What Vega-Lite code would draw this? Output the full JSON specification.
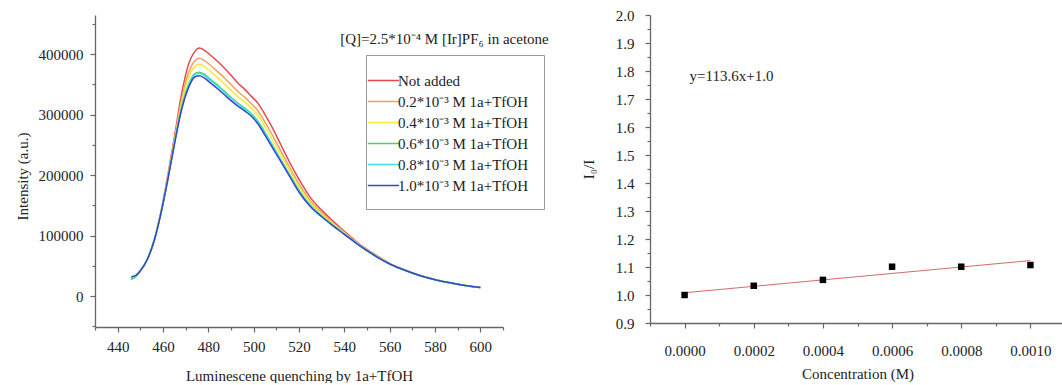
{
  "$schema": "https://vega.github.io/schema/vega-lite/v6.json",
  "padding": {"left": 15, "top": 8, "right": 0, "bottom": 0},
  "spacing": 32,
  "config": {
    "font": "Liberation Serif",
    "view": {"stroke": null},
    "axis": {
      "grid": false,
      "domainColor": "#666666",
      "domainWidth": 1.3,
      "tickColor": "#666666",
      "tickWidth": 1.2,
      "tickCount": 100,
      "labelColor": "#222222",
      "titleColor": "#222222",
      "labelFontSize": 15,
      "titleFontSize": 15,
      "titleFontWeight": "normal",
      "labelFont": "Liberation Serif",
      "titleFont": "Liberation Serif",
      "labelOverlap": false,
      "labelFlush": false,
      "labelBound": false
    }
  },
  "datasets": {
    "spectra": [
      {"w":446,"v":30000,"s":"Not added"},{"w":448,"v":33000,"s":"Not added"},{"w":450,"v":41000,"s":"Not added"},{"w":453,"v":60000,"s":"Not added"},{"w":456,"v":91000,"s":"Not added"},{"w":459,"v":138000,"s":"Not added"},{"w":462,"v":197000,"s":"Not added"},{"w":465,"v":262000,"s":"Not added"},{"w":468,"v":330000,"s":"Not added"},{"w":471,"v":380000,"s":"Not added"},{"w":474,"v":404000,"s":"Not added"},{"w":476,"v":410000,"s":"Not added"},{"w":478,"v":407000,"s":"Not added"},{"w":481,"v":398000,"s":"Not added"},{"w":484,"v":388000,"s":"Not added"},{"w":487,"v":377000,"s":"Not added"},{"w":490,"v":365000,"s":"Not added"},{"w":493,"v":352000,"s":"Not added"},{"w":496,"v":342000,"s":"Not added"},{"w":499,"v":330000,"s":"Not added"},{"w":502,"v":318000,"s":"Not added"},{"w":505,"v":300000,"s":"Not added"},{"w":508,"v":280000,"s":"Not added"},{"w":512,"v":250000,"s":"Not added"},{"w":516,"v":220000,"s":"Not added"},{"w":520,"v":193000,"s":"Not added"},{"w":525,"v":163000,"s":"Not added"},{"w":530,"v":142000,"s":"Not added"},{"w":535,"v":124000,"s":"Not added"},{"w":540,"v":107000,"s":"Not added"},{"w":545,"v":91000,"s":"Not added"},{"w":550,"v":77000,"s":"Not added"},{"w":555,"v":65000,"s":"Not added"},{"w":560,"v":54000,"s":"Not added"},{"w":565,"v":45500,"s":"Not added"},{"w":570,"v":38500,"s":"Not added"},{"w":575,"v":32500,"s":"Not added"},{"w":580,"v":27500,"s":"Not added"},{"w":585,"v":23000,"s":"Not added"},{"w":590,"v":19500,"s":"Not added"},{"w":595,"v":16500,"s":"Not added"},{"w":600,"v":14000,"s":"Not added"},

      {"w":446,"v":29000,"s":"0.2*10⁻³ M 1a+TfOH"},{"w":448,"v":33000,"s":"0.2*10⁻³ M 1a+TfOH"},{"w":450,"v":41500,"s":"0.2*10⁻³ M 1a+TfOH"},{"w":453,"v":60000,"s":"0.2*10⁻³ M 1a+TfOH"},{"w":456,"v":90600,"s":"0.2*10⁻³ M 1a+TfOH"},{"w":459,"v":136900,"s":"0.2*10⁻³ M 1a+TfOH"},{"w":462,"v":194400,"s":"0.2*10⁻³ M 1a+TfOH"},{"w":465,"v":257600,"s":"0.2*10⁻³ M 1a+TfOH"},{"w":468,"v":320800,"s":"0.2*10⁻³ M 1a+TfOH"},{"w":471,"v":366000,"s":"0.2*10⁻³ M 1a+TfOH"},{"w":474,"v":388500,"s":"0.2*10⁻³ M 1a+TfOH"},{"w":476,"v":393000,"s":"0.2*10⁻³ M 1a+TfOH"},{"w":478,"v":390000,"s":"0.2*10⁻³ M 1a+TfOH"},{"w":481,"v":381000,"s":"0.2*10⁻³ M 1a+TfOH"},{"w":484,"v":371400,"s":"0.2*10⁻³ M 1a+TfOH"},{"w":487,"v":360700,"s":"0.2*10⁻³ M 1a+TfOH"},{"w":490,"v":349500,"s":"0.2*10⁻³ M 1a+TfOH"},{"w":493,"v":338000,"s":"0.2*10⁻³ M 1a+TfOH"},{"w":496,"v":328700,"s":"0.2*10⁻³ M 1a+TfOH"},{"w":499,"v":317800,"s":"0.2*10⁻³ M 1a+TfOH"},{"w":502,"v":305400,"s":"0.2*10⁻³ M 1a+TfOH"},{"w":505,"v":287400,"s":"0.2*10⁻³ M 1a+TfOH"},{"w":508,"v":267800,"s":"0.2*10⁻³ M 1a+TfOH"},{"w":512,"v":239600,"s":"0.2*10⁻³ M 1a+TfOH"},{"w":516,"v":211500,"s":"0.2*10⁻³ M 1a+TfOH"},{"w":520,"v":185200,"s":"0.2*10⁻³ M 1a+TfOH"},{"w":525,"v":157500,"s":"0.2*10⁻³ M 1a+TfOH"},{"w":530,"v":137900,"s":"0.2*10⁻³ M 1a+TfOH"},{"w":535,"v":121000,"s":"0.2*10⁻³ M 1a+TfOH"},{"w":540,"v":105200,"s":"0.2*10⁻³ M 1a+TfOH"},{"w":545,"v":89900,"s":"0.2*10⁻³ M 1a+TfOH"},{"w":550,"v":76300,"s":"0.2*10⁻³ M 1a+TfOH"},{"w":555,"v":64300,"s":"0.2*10⁻³ M 1a+TfOH"},{"w":560,"v":53600,"s":"0.2*10⁻³ M 1a+TfOH"},{"w":565,"v":45300,"s":"0.2*10⁻³ M 1a+TfOH"},{"w":570,"v":38300,"s":"0.2*10⁻³ M 1a+TfOH"},{"w":575,"v":32300,"s":"0.2*10⁻³ M 1a+TfOH"},{"w":580,"v":27300,"s":"0.2*10⁻³ M 1a+TfOH"},{"w":585,"v":22900,"s":"0.2*10⁻³ M 1a+TfOH"},{"w":590,"v":19400,"s":"0.2*10⁻³ M 1a+TfOH"},{"w":595,"v":16400,"s":"0.2*10⁻³ M 1a+TfOH"},{"w":600,"v":14000,"s":"0.2*10⁻³ M 1a+TfOH"},

      {"w":446,"v":27000,"s":"0.4*10⁻³ M 1a+TfOH"},{"w":448,"v":32000,"s":"0.4*10⁻³ M 1a+TfOH"},{"w":450,"v":41500,"s":"0.4*10⁻³ M 1a+TfOH"},{"w":453,"v":60000,"s":"0.4*10⁻³ M 1a+TfOH"},{"w":456,"v":90400,"s":"0.4*10⁻³ M 1a+TfOH"},{"w":459,"v":136200,"s":"0.4*10⁻³ M 1a+TfOH"},{"w":462,"v":192900,"s":"0.4*10⁻³ M 1a+TfOH"},{"w":465,"v":254900,"s":"0.4*10⁻³ M 1a+TfOH"},{"w":468,"v":315300,"s":"0.4*10⁻³ M 1a+TfOH"},{"w":471,"v":357600,"s":"0.4*10⁻³ M 1a+TfOH"},{"w":474,"v":379200,"s":"0.4*10⁻³ M 1a+TfOH"},{"w":476,"v":383000,"s":"0.4*10⁻³ M 1a+TfOH"},{"w":478,"v":380000,"s":"0.4*10⁻³ M 1a+TfOH"},{"w":481,"v":370900,"s":"0.4*10⁻³ M 1a+TfOH"},{"w":484,"v":361500,"s":"0.4*10⁻³ M 1a+TfOH"},{"w":487,"v":351000,"s":"0.4*10⁻³ M 1a+TfOH"},{"w":490,"v":340200,"s":"0.4*10⁻³ M 1a+TfOH"},{"w":493,"v":329600,"s":"0.4*10⁻³ M 1a+TfOH"},{"w":496,"v":320800,"s":"0.4*10⁻³ M 1a+TfOH"},{"w":499,"v":310500,"s":"0.4*10⁻³ M 1a+TfOH"},{"w":502,"v":298000,"s":"0.4*10⁻³ M 1a+TfOH"},{"w":505,"v":280000,"s":"0.4*10⁻³ M 1a+TfOH"},{"w":508,"v":260500,"s":"0.4*10⁻³ M 1a+TfOH"},{"w":512,"v":233500,"s":"0.4*10⁻³ M 1a+TfOH"},{"w":516,"v":206400,"s":"0.4*10⁻³ M 1a+TfOH"},{"w":520,"v":180600,"s":"0.4*10⁻³ M 1a+TfOH"},{"w":525,"v":154200,"s":"0.4*10⁻³ M 1a+TfOH"},{"w":530,"v":135500,"s":"0.4*10⁻³ M 1a+TfOH"},{"w":535,"v":119300,"s":"0.4*10⁻³ M 1a+TfOH"},{"w":540,"v":104100,"s":"0.4*10⁻³ M 1a+TfOH"},{"w":545,"v":89200,"s":"0.4*10⁻³ M 1a+TfOH"},{"w":550,"v":75800,"s":"0.4*10⁻³ M 1a+TfOH"},{"w":555,"v":63800,"s":"0.4*10⁻³ M 1a+TfOH"},{"w":560,"v":53400,"s":"0.4*10⁻³ M 1a+TfOH"},{"w":565,"v":45200,"s":"0.4*10⁻³ M 1a+TfOH"},{"w":570,"v":38200,"s":"0.4*10⁻³ M 1a+TfOH"},{"w":575,"v":32200,"s":"0.4*10⁻³ M 1a+TfOH"},{"w":580,"v":27200,"s":"0.4*10⁻³ M 1a+TfOH"},{"w":585,"v":22900,"s":"0.4*10⁻³ M 1a+TfOH"},{"w":590,"v":19300,"s":"0.4*10⁻³ M 1a+TfOH"},{"w":595,"v":16300,"s":"0.4*10⁻³ M 1a+TfOH"},{"w":600,"v":13900,"s":"0.4*10⁻³ M 1a+TfOH"},

      {"w":446,"v":27500,"s":"0.6*10⁻³ M 1a+TfOH"},{"w":448,"v":32000,"s":"0.6*10⁻³ M 1a+TfOH"},{"w":450,"v":41500,"s":"0.6*10⁻³ M 1a+TfOH"},{"w":453,"v":60000,"s":"0.6*10⁻³ M 1a+TfOH"},{"w":456,"v":90100,"s":"0.6*10⁻³ M 1a+TfOH"},{"w":459,"v":135400,"s":"0.6*10⁻³ M 1a+TfOH"},{"w":462,"v":190900,"s":"0.6*10⁻³ M 1a+TfOH"},{"w":465,"v":251600,"s":"0.6*10⁻³ M 1a+TfOH"},{"w":468,"v":308300,"s":"0.6*10⁻³ M 1a+TfOH"},{"w":471,"v":347000,"s":"0.6*10⁻³ M 1a+TfOH"},{"w":474,"v":367500,"s":"0.6*10⁻³ M 1a+TfOH"},{"w":476,"v":370000,"s":"0.6*10⁻³ M 1a+TfOH"},{"w":478,"v":367000,"s":"0.6*10⁻³ M 1a+TfOH"},{"w":481,"v":358000,"s":"0.6*10⁻³ M 1a+TfOH"},{"w":484,"v":348900,"s":"0.6*10⁻³ M 1a+TfOH"},{"w":487,"v":338700,"s":"0.6*10⁻³ M 1a+TfOH"},{"w":490,"v":328500,"s":"0.6*10⁻³ M 1a+TfOH"},{"w":493,"v":318900,"s":"0.6*10⁻³ M 1a+TfOH"},{"w":496,"v":310700,"s":"0.6*10⁻³ M 1a+TfOH"},{"w":499,"v":301300,"s":"0.6*10⁻³ M 1a+TfOH"},{"w":502,"v":288400,"s":"0.6*10⁻³ M 1a+TfOH"},{"w":505,"v":270400,"s":"0.6*10⁻³ M 1a+TfOH"},{"w":508,"v":251300,"s":"0.6*10⁻³ M 1a+TfOH"},{"w":512,"v":225600,"s":"0.6*10⁻³ M 1a+TfOH"},{"w":516,"v":200000,"s":"0.6*10⁻³ M 1a+TfOH"},{"w":520,"v":174700,"s":"0.6*10⁻³ M 1a+TfOH"},{"w":525,"v":150000,"s":"0.6*10⁻³ M 1a+TfOH"},{"w":530,"v":132400,"s":"0.6*10⁻³ M 1a+TfOH"},{"w":535,"v":117000,"s":"0.6*10⁻³ M 1a+TfOH"},{"w":540,"v":102700,"s":"0.6*10⁻³ M 1a+TfOH"},{"w":545,"v":88400,"s":"0.6*10⁻³ M 1a+TfOH"},{"w":550,"v":75300,"s":"0.6*10⁻³ M 1a+TfOH"},{"w":555,"v":63300,"s":"0.6*10⁻³ M 1a+TfOH"},{"w":560,"v":53100,"s":"0.6*10⁻³ M 1a+TfOH"},{"w":565,"v":45000,"s":"0.6*10⁻³ M 1a+TfOH"},{"w":570,"v":38100,"s":"0.6*10⁻³ M 1a+TfOH"},{"w":575,"v":32100,"s":"0.6*10⁻³ M 1a+TfOH"},{"w":580,"v":27100,"s":"0.6*10⁻³ M 1a+TfOH"},{"w":585,"v":22800,"s":"0.6*10⁻³ M 1a+TfOH"},{"w":590,"v":19300,"s":"0.6*10⁻³ M 1a+TfOH"},{"w":595,"v":16300,"s":"0.6*10⁻³ M 1a+TfOH"},{"w":600,"v":13900,"s":"0.6*10⁻³ M 1a+TfOH"},

      {"w":446,"v":30000,"s":"0.8*10⁻³ M 1a+TfOH"},{"w":448,"v":33000,"s":"0.8*10⁻³ M 1a+TfOH"},{"w":450,"v":41500,"s":"0.8*10⁻³ M 1a+TfOH"},{"w":453,"v":60000,"s":"0.8*10⁻³ M 1a+TfOH"},{"w":456,"v":90100,"s":"0.8*10⁻³ M 1a+TfOH"},{"w":459,"v":135300,"s":"0.8*10⁻³ M 1a+TfOH"},{"w":462,"v":190600,"s":"0.8*10⁻³ M 1a+TfOH"},{"w":465,"v":251100,"s":"0.8*10⁻³ M 1a+TfOH"},{"w":468,"v":307300,"s":"0.8*10⁻³ M 1a+TfOH"},{"w":471,"v":345400,"s":"0.8*10⁻³ M 1a+TfOH"},{"w":474,"v":365800,"s":"0.8*10⁻³ M 1a+TfOH"},{"w":476,"v":368100,"s":"0.8*10⁻³ M 1a+TfOH"},{"w":478,"v":365100,"s":"0.8*10⁻³ M 1a+TfOH"},{"w":481,"v":356100,"s":"0.8*10⁻³ M 1a+TfOH"},{"w":484,"v":347100,"s":"0.8*10⁻³ M 1a+TfOH"},{"w":487,"v":337000,"s":"0.8*10⁻³ M 1a+TfOH"},{"w":490,"v":326800,"s":"0.8*10⁻³ M 1a+TfOH"},{"w":493,"v":317400,"s":"0.8*10⁻³ M 1a+TfOH"},{"w":496,"v":309200,"s":"0.8*10⁻³ M 1a+TfOH"},{"w":499,"v":300000,"s":"0.8*10⁻³ M 1a+TfOH"},{"w":502,"v":287100,"s":"0.8*10⁻³ M 1a+TfOH"},{"w":505,"v":269100,"s":"0.8*10⁻³ M 1a+TfOH"},{"w":508,"v":250000,"s":"0.8*10⁻³ M 1a+TfOH"},{"w":512,"v":224500,"s":"0.8*10⁻³ M 1a+TfOH"},{"w":516,"v":199100,"s":"0.8*10⁻³ M 1a+TfOH"},{"w":520,"v":173900,"s":"0.8*10⁻³ M 1a+TfOH"},{"w":525,"v":149400,"s":"0.8*10⁻³ M 1a+TfOH"},{"w":530,"v":132000,"s":"0.8*10⁻³ M 1a+TfOH"},{"w":535,"v":116700,"s":"0.8*10⁻³ M 1a+TfOH"},{"w":540,"v":102500,"s":"0.8*10⁻³ M 1a+TfOH"},{"w":545,"v":88300,"s":"0.8*10⁻³ M 1a+TfOH"},{"w":550,"v":75200,"s":"0.8*10⁻³ M 1a+TfOH"},{"w":555,"v":63200,"s":"0.8*10⁻³ M 1a+TfOH"},{"w":560,"v":53100,"s":"0.8*10⁻³ M 1a+TfOH"},{"w":565,"v":45000,"s":"0.8*10⁻³ M 1a+TfOH"},{"w":570,"v":38000,"s":"0.8*10⁻³ M 1a+TfOH"},{"w":575,"v":32000,"s":"0.8*10⁻³ M 1a+TfOH"},{"w":580,"v":27000,"s":"0.8*10⁻³ M 1a+TfOH"},{"w":585,"v":22800,"s":"0.8*10⁻³ M 1a+TfOH"},{"w":590,"v":19300,"s":"0.8*10⁻³ M 1a+TfOH"},{"w":595,"v":16300,"s":"0.8*10⁻³ M 1a+TfOH"},{"w":600,"v":13900,"s":"0.8*10⁻³ M 1a+TfOH"},

      {"w":446,"v":32000,"s":"1.0*10⁻³ M 1a+TfOH"},{"w":448,"v":34000,"s":"1.0*10⁻³ M 1a+TfOH"},{"w":450,"v":42000,"s":"1.0*10⁻³ M 1a+TfOH"},{"w":453,"v":60000,"s":"1.0*10⁻³ M 1a+TfOH"},{"w":456,"v":90000,"s":"1.0*10⁻³ M 1a+TfOH"},{"w":459,"v":135000,"s":"1.0*10⁻³ M 1a+TfOH"},{"w":462,"v":190000,"s":"1.0*10⁻³ M 1a+TfOH"},{"w":465,"v":250000,"s":"1.0*10⁻³ M 1a+TfOH"},{"w":468,"v":305000,"s":"1.0*10⁻³ M 1a+TfOH"},{"w":471,"v":342000,"s":"1.0*10⁻³ M 1a+TfOH"},{"w":474,"v":362000,"s":"1.0*10⁻³ M 1a+TfOH"},{"w":476,"v":364000,"s":"1.0*10⁻³ M 1a+TfOH"},{"w":478,"v":361000,"s":"1.0*10⁻³ M 1a+TfOH"},{"w":481,"v":352000,"s":"1.0*10⁻³ M 1a+TfOH"},{"w":484,"v":343000,"s":"1.0*10⁻³ M 1a+TfOH"},{"w":487,"v":333000,"s":"1.0*10⁻³ M 1a+TfOH"},{"w":490,"v":323000,"s":"1.0*10⁻³ M 1a+TfOH"},{"w":493,"v":314000,"s":"1.0*10⁻³ M 1a+TfOH"},{"w":496,"v":306000,"s":"1.0*10⁻³ M 1a+TfOH"},{"w":499,"v":297000,"s":"1.0*10⁻³ M 1a+TfOH"},{"w":502,"v":284000,"s":"1.0*10⁻³ M 1a+TfOH"},{"w":505,"v":266000,"s":"1.0*10⁻³ M 1a+TfOH"},{"w":508,"v":247000,"s":"1.0*10⁻³ M 1a+TfOH"},{"w":512,"v":222000,"s":"1.0*10⁻³ M 1a+TfOH"},{"w":516,"v":197000,"s":"1.0*10⁻³ M 1a+TfOH"},{"w":520,"v":172000,"s":"1.0*10⁻³ M 1a+TfOH"},{"w":525,"v":148000,"s":"1.0*10⁻³ M 1a+TfOH"},{"w":530,"v":131000,"s":"1.0*10⁻³ M 1a+TfOH"},{"w":535,"v":116000,"s":"1.0*10⁻³ M 1a+TfOH"},{"w":540,"v":102000,"s":"1.0*10⁻³ M 1a+TfOH"},{"w":545,"v":88000,"s":"1.0*10⁻³ M 1a+TfOH"},{"w":550,"v":75000,"s":"1.0*10⁻³ M 1a+TfOH"},{"w":555,"v":63000,"s":"1.0*10⁻³ M 1a+TfOH"},{"w":560,"v":53000,"s":"1.0*10⁻³ M 1a+TfOH"},{"w":565,"v":45000,"s":"1.0*10⁻³ M 1a+TfOH"},{"w":570,"v":38000,"s":"1.0*10⁻³ M 1a+TfOH"},{"w":575,"v":32000,"s":"1.0*10⁻³ M 1a+TfOH"},{"w":580,"v":27000,"s":"1.0*10⁻³ M 1a+TfOH"},{"w":585,"v":23000,"s":"1.0*10⁻³ M 1a+TfOH"},{"w":590,"v":19500,"s":"1.0*10⁻³ M 1a+TfOH"},{"w":595,"v":16500,"s":"1.0*10⁻³ M 1a+TfOH"},{"w":600,"v":14000,"s":"1.0*10⁻³ M 1a+TfOH"}
    ],
    "points": [
      {"c":0,"r":1.0},{"c":0.0002,"r":1.033},{"c":0.0004,"r":1.054},{"c":0.0006,"r":1.101},{"c":0.0008,"r":1.101},{"c":0.001,"r":1.107}
    ],
    "fit": [
      {"c":0,"r":1.008},{"c":0.001,"r":1.123}
    ]
  },
  "hconcat": [
    {
      "width": 408,
      "height": 312,
      "layer": [
        {
          "data": {"name": "spectra"},
          "mark": {"type": "line", "strokeWidth": 1.5, "interpolate": "monotone"},
          "encoding": {
            "x": {
              "field": "w", "type": "quantitative",
              "scale": {"domain": [430, 610], "nice": false, "zero": false},
              "axis": {
                "title": "Luminescene quenching by 1a+TfOH",
                "values": [430,440,450,460,470,480,490,500,510,520,530,540,550,560,570,580,590,600,610],
                "tickCount": 100,
                "labelExpr": "datum.value % 20 == 0 ? format(datum.value, 'd') : ''",
                "labelOverlap": false,
                "tickSize": {"condition": {"test": "datum.value % 20 == 0", "value": 5}, "value": 3},
                "labelPadding": 7,
                "titlePadding": 14
              }
            },
            "y": {
              "field": "v", "type": "quantitative",
              "scale": {"domain": [-51200, 464500], "nice": false, "zero": false},
              "axis": {
                "title": "Intensity (a.u.)",
                "values": [-50000,0,50000,100000,150000,200000,250000,300000,350000,400000,450000],
                "tickCount": 100,
                "labelExpr": "datum.value % 100000 == 0 && datum.value >= 0 ? format(datum.value, 'd') : ''",
                "labelOverlap": false,
                "tickSize": {"condition": {"test": "datum.value % 100000 == 0", "value": 5}, "value": 3},
                "labelPadding": 7,
                "titleX": -65,
                "titleY": 161
              }
            },
            "color": {
              "field": "s", "type": "nominal",
              "scale": {
                "domain": ["Not added","0.2*10⁻³ M 1a+TfOH","0.4*10⁻³ M 1a+TfOH","0.6*10⁻³ M 1a+TfOH","0.8*10⁻³ M 1a+TfOH","1.0*10⁻³ M 1a+TfOH"],
                "range": ["#e34a4f","#f0a060","#f5ea3a","#4cd35a","#3ee0ee","#3845c8"]
              },
              "legend": {
                "title": null,
                "orient": "none",
                "legendX": 271,
                "legendY": 40,
                "symbolType": "M-2.5,0H0.8",
                "symbolSize": 361,
                "symbolStrokeWidth": 1.5,
                "labelFontSize": 15,
                "labelFont": "Liberation Serif",
                "labelColor": "#222222",
                "labelOffset": -4,
                "labelLimit": 400,
                "padding": 15,
                "rowPadding": 2,
                "strokeColor": "#999999",
                "fillColor": "white"
              }
            }
          }
        },
        {
          "data": {"values": [{"x": 584.2, "y": 424800, "t": "[Q]=2.5*10⁻⁴ M [Ir]PF₆ in acetone"}]},
          "mark": {"type": "text", "fontSize": 15, "align": "center", "baseline": "middle", "color": "#222222", "font": "Liberation Serif"},
          "encoding": {
            "x": {"field": "x", "type": "quantitative"},
            "y": {"field": "y", "type": "quantitative"},
            "text": {"field": "t"}
          }
        }
      ]
    },
    {
      "width": 415,
      "height": 308,
      "layer": [
        {
          "data": {"name": "fit"},
          "mark": {"type": "line", "color": "#d46a6a", "strokeWidth": 1},
          "encoding": {
            "x": {
              "field": "c", "type": "quantitative",
              "scale": {"domain": [-0.0001, 0.0011], "nice": false, "zero": false},
              "axis": {
                "title": "Concentration (M)",
                "values": [-0.0001,0,0.0001,0.0002,0.0003,0.0004,0.0005,0.0006,0.0007,0.0008,0.0009,0.001,0.0011],
                "tickCount": 100,
                "labelExpr": "round(datum.value*10000) % 2 == 0 ? format(datum.value, '.4f') : ''",
                "labelOverlap": false,
                "tickSize": {"condition": {"test": "round(datum.value*10000) % 2 == 0", "value": 5}, "value": 3},
                "labelPadding": 15,
                "titlePadding": 8
              }
            },
            "y": {
              "field": "r", "type": "quantitative",
              "scale": {"domain": [0.9, 2.0], "nice": false, "zero": false},
              "axis": {
                "title": "I₀/I",
                "values": [0.9,0.95,1.0,1.05,1.1,1.15,1.2,1.25,1.3,1.35,1.4,1.45,1.5,1.55,1.6,1.65,1.7,1.75,1.8,1.85,1.9,1.95,2.0],
                "tickCount": 100,
                "labelExpr": "round(datum.value*100) % 10 == 0 ? format(datum.value, '.1f') : ''",
                "labelOverlap": false,
                "tickSize": {"condition": {"test": "round(datum.value*100) % 10 == 0", "value": 5}, "value": 3},
                "labelPadding": 11,
                "titleX": -54
              }
            }
          }
        },
        {
          "data": {"name": "points"},
          "mark": {"type": "point", "shape": "square", "filled": true, "color": "#000000", "size": 42, "opacity": 1},
          "encoding": {
            "x": {"field": "c", "type": "quantitative"},
            "y": {"field": "r", "type": "quantitative"}
          }
        },
        {
          "data": {"values": [{"x": 0.0000145, "y": 1.782, "t": "y=113.6x+1.0"}]},
          "mark": {"type": "text", "fontSize": 15, "align": "left", "baseline": "middle", "color": "#222222", "font": "Liberation Serif"},
          "encoding": {
            "x": {"field": "x", "type": "quantitative"},
            "y": {"field": "y", "type": "quantitative"},
            "text": {"field": "t"}
          }
        }
      ]
    }
  ]
}
